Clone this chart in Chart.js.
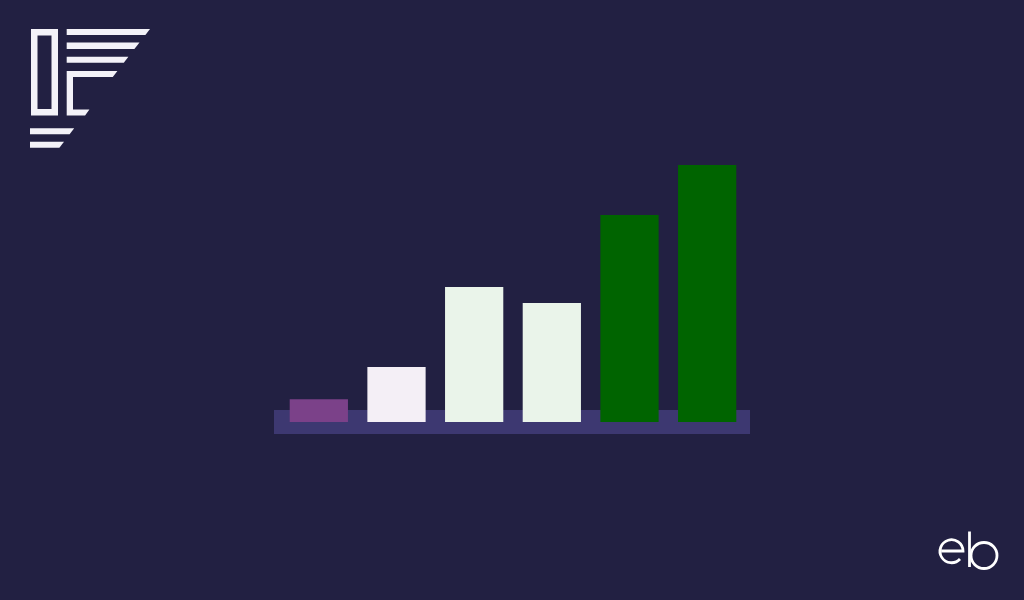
<!DOCTYPE html>
<html lang="en">
<head>
  <meta charset="UTF-8">
  <title>Bar chart</title>
  <script src="https://cdn.jsdelivr.net/npm/chart.js"></script>
  <style>
    html, body { margin: 0; padding: 0; background: #222042; overflow: hidden; }
    #wrap { position: relative; width: 1024px; height: 600px; }
    #logo, #mark { position: absolute; left: 0; top: 0; }
  </style>
</head>
<body>
  <div id="wrap">
    <canvas id="grafica" width="1024" height="600"></canvas>

    <!-- logo arriba a la izquierda -->
    <svg id="logo" width="200" height="200" viewBox="0 0 200 200">
      <g fill="#f3f2f8">
        <path fill-rule="evenodd" d="M31 29 H58 V115.5 H31 Z M37.5 35.5 V109 H51.5 V35.5 Z"/>
        <polygon points="66.7,29 150,29 145.4,35 66.7,35"/>
        <polygon points="66.7,42.5 139.5,42.5 134.4,49 66.7,49"/>
        <polygon points="66.7,56.7 128.4,56.7 123.8,62.7 66.7,62.7"/>
        <polygon points="66.7,71 117.4,71 112.8,77 73,77 73,109.5 89.4,109.5 85.1,115.5 66.7,115.5"/>
        <polygon points="30,128.3 74.2,128.3 69.6,134.3 30,134.3"/>
        <polygon points="30,141.7 64,141.7 59.4,147.7 30,147.7"/>
      </g>
    </svg>

    <!-- marca eb abajo a la derecha -->
    <svg id="mark" width="1024" height="600" viewBox="0 0 1024 600">
      <g fill="none" stroke="#ffffff" stroke-width="2.8">
        <path d="M941.5 551 H963 A11.5 11.5 0 1 0 960 559"/>
        <line x1="969.5" y1="531.5" x2="969.5" y2="567"/>
        <circle cx="984" cy="555.5" r="13"/>
      </g>
    </svg>
  </div>

  <script>
    // Valores (altura relativa, la barra más alta = 100)
    const categorias = ['1', '2', '3', '4', '5', '6'];
    const valores = [8.9, 21.4, 52.5, 46.3, 80.5, 100];
    const colores = ['#7b4189', '#f4eff6', '#eaf4ea', '#eaf4ea', '#006400', '#006400'];

    // Franja base detrás de las barras
    const franjaBase = {
      id: 'franjaBase',
      beforeDatasetsDraw(chart) {
        const { ctx, chartArea, scales } = chart;
        const y0 = scales.y.getPixelForValue(0);
        ctx.save();
        ctx.fillStyle = '#3d3871';
        ctx.fillRect(chartArea.left - 6, y0 - 12, chartArea.width + 10, 24);
        ctx.restore();
      }
    };

    new Chart(document.getElementById('grafica'), {
      type: 'bar',
      data: {
        labels: categorias,
        datasets: [{
          data: valores,
          backgroundColor: colores,
          borderWidth: 0,
          categoryPercentage: 0.75,
          barPercentage: 1
        }]
      },
      options: {
        responsive: false,
        animation: false,
        layout: { padding: { left: 280, right: 278, top: 165, bottom: 178 } },
        plugins: {
          legend: { display: false },
          tooltip: { enabled: false }
        },
        scales: {
          x: { display: false },
          y: { display: false, min: 0, max: 100 }
        }
      },
      plugins: [franjaBase]
    });
  </script>
</body>
</html>
